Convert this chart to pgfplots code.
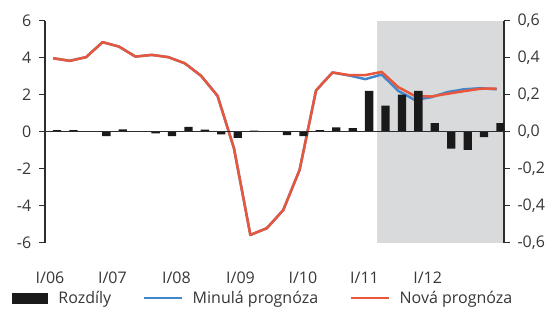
\documentclass[border=0pt]{standalone}
\usepackage{pgfplots}
\pgfplotsset{compat=1.18}
\usepackage{pgfplotstable}
\usepackage{fontspec}
\setmainfont{Open Sans}
\newcommand\chartfont{\fontsize{16}{18.5}\selectfont}
\definecolor{redl}{RGB}{232,86,60}
\definecolor{bluel}{RGB}{66,135,204}
\definecolor{shade}{RGB}{217,218,219}
\definecolor{axc}{RGB}{45,45,45}
\definecolor{txt}{RGB}{55,55,55}
\definecolor{barc}{RGB}{26,26,26}

\pgfplotstableread{
q old new
0 3.96 3.96
1 3.82 3.82
2 4.02 4.02
3 4.83 4.83
4 4.59 4.59
5 4.05 4.05
6 4.14 4.14
7 4.02 4.02
8 3.69 3.69
9 3.01 3.01
10 1.93 1.93
11 -0.90 -0.90
12 -5.59 -5.59
13 -5.23 -5.23
14 -4.25 -4.25
15 -2.07 -2.07
16 2.22 2.22
17 3.19 3.19
18 3.03 3.05
19 2.83 3.05
20 3.08 3.22
21 2.20 2.40
22 1.71 1.93
23 1.85 1.89
24 2.13 2.04
25 2.28 2.18
26 2.34 2.31
27 2.28 2.32
}\lines

\pgfplotstableread{
q diff
0 0.008
1 0.008
2 0.002
3 -0.025
4 0.012
5 0.0
6 -0.010
7 -0.025
8 0.025
9 0.010
10 -0.015
11 -0.035
12 0.005
13 0.0
14 -0.020
15 -0.025
16 0.007
17 0.022
18 0.018
19 0.220
20 0.140
21 0.200
22 0.220
23 0.045
24 -0.093
25 -0.099
26 -0.030
27 0.045
}\bars

\begin{document}
\begin{tikzpicture}[x=1pt,y=1pt]
\useasboundingbox (0,0) rectangle (548,314);
\begin{axis}[
  at={(45pt,71.5pt)}, anchor=south west,
  width=459pt, height=222pt, scale only axis,
  xmin=-0.505, xmax=27.445, ymin=-6, ymax=6,
  axis y line*=left, axis x line*=bottom,
  x axis line style={draw=none},
  y axis line style={draw=axc, line width=1.2pt},
  xtick={-0.2,3.6,7.5,11.4,15.2,18.95,22.8},
  xticklabels={I/06,I/07,I/08,I/09,I/10,I/11,I/12},
  xtick style={draw=none},
  xticklabel style={yshift=-20pt},
  ytick={-6,-4,-2,0,2,4,6},
  yticklabels={-6,-4,-2,0,2,4,6},
  ytick style={draw=axc, line width=1.2pt},
  yticklabel style={xshift=-4.5pt},
  tick align=outside, major tick length=5.7pt,
  tick label style={font=\chartfont, text=txt},
  legend style={at={(-0.0719,-0.25)}, anchor=west, draw=none, fill=none,
    inner sep=0pt, outer sep=0pt, legend columns=3,
    font=\chartfont, text=txt,
    nodes={inner sep=0pt},
    /tikz/every odd column/.append style={column sep=9pt},
    /tikz/every even column/.append style={column sep=32pt}},
  legend cell align=left,
]
\addlegendimage{legend image code/.code={\fill[barc] (0pt,-5pt) rectangle (35pt,5pt); \path (37pt,0pt);}}
\addplot[fill=shade, draw=none, forget plot] coordinates {(19.72,-6) (19.72,6) (27.445,6) (27.445,-6)} -- cycle;
\addplot[bluel, line width=2.5pt, line join=round,
  legend image code/.code={\draw[line width=2.5pt] (0pt,0pt) -- (38pt,0pt);}] table[x=q, y=old] {\lines};
\addplot[redl, line width=2.5pt, line join=round,
  legend image code/.code={\draw[line width=2.5pt] (0pt,0pt) -- (38pt,0pt);}] table[x=q, y=new] {\lines};
\legend{Rozdíly, Minulá prognóza, Nová prognóza}
\end{axis}
\begin{axis}[
  at={(45pt,71.5pt)}, anchor=south west,
  width=459pt, height=222pt, scale only axis,
  xmin=-0.505, xmax=27.445, ymin=-0.6, ymax=0.6,
  axis x line=none, axis y line*=right,
  y axis line style={draw=axc, line width=1.2pt},
  xtick=\empty,
  ytick={-0.6,-0.4,-0.2,0,0.2,0.4,0.6},
  yticklabels={{-0,6},{-0,4},{-0,2},{0,0},{0,2},{0,4},{0,6}},
  ytick style={draw=axc, line width=1.2pt},
  yticklabel style={xshift=4pt},
  tick align=outside, major tick length=6pt,
  tick label style={font=\chartfont, text=txt},
]
\addplot[ybar, bar width=8.3pt, bar shift=3.8pt, fill=barc, draw=none] table[x=q, y=diff] {\bars};
\addplot[axc, line width=1.2pt, forget plot] coordinates {(-0.505,0) (27.445,0)};
\end{axis}
\end{tikzpicture}
\end{document}
